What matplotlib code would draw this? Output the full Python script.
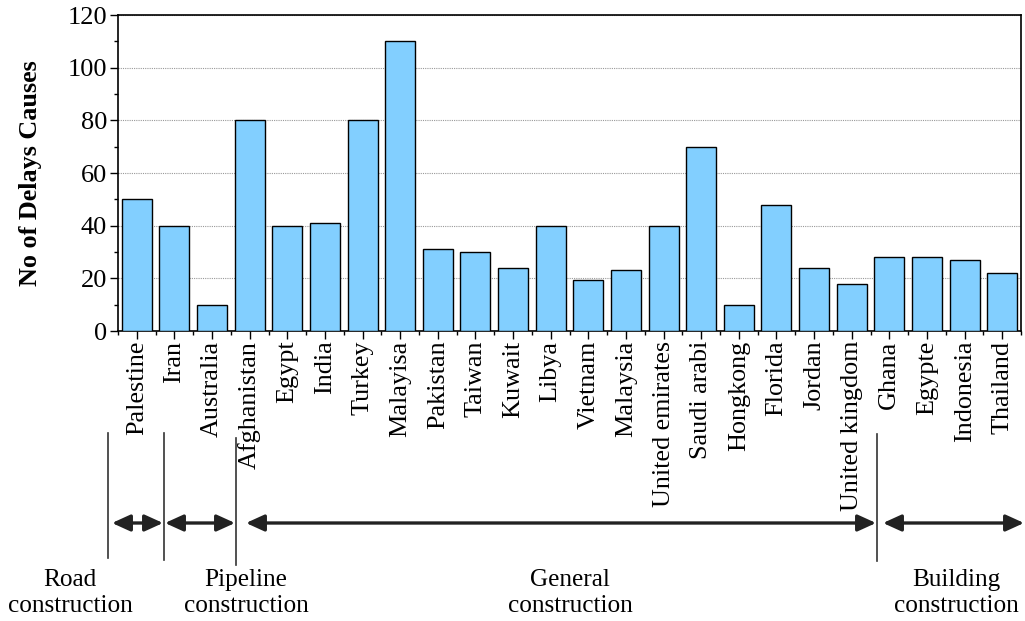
import numpy as np
import matplotlib
matplotlib.use("Agg")
import matplotlib.pyplot as plt

plt.rcParams['font.family'] = ['Liberation Serif', 'DejaVu Serif']

# ---------------------------------------------
# data
# ---------------------------------------------
countries = ["Palestine", "Iran", "Australia", "Afghanistan", "Egypt", "India",
             "Turkey", "Malayisa", "Pakistan", "Taiwan", "Kuwait", "Libya",
             "Vietnam", "Malaysia", "United emirates", "Saudi arabi", "Hongkong",
             "Florida", "Jordan", "United kingdom", "Ghana", "Egypte",
             "Indonesia", "Thailand"]
delay_causes = [50, 40, 10, 80, 40, 41, 80, 110, 31, 30, 24, 40,
                19.5, 23, 40, 70, 10, 48, 24, 18, 28, 28, 27, 22]

group_names = ["Road\nconstruction", "Pipeline\nconstruction",
               "General\nconstruction", "Building\nconstruction"]

W, H = 1025, 621
fig = plt.figure(figsize=(W / 100, H / 100), dpi=100)
ax = fig.add_axes([118 / W, 1 - 331 / H, (1021 - 118) / W, (331 - 15) / H])

x = np.arange(len(countries))
ax.bar(x, delay_causes, width=0.8, color='#82CFFF', edgecolor='black',
       linewidth=1.0, zorder=3)

ax.set_xlim(-0.5, len(countries) - 0.5)
ax.set_ylim(0, 120)
ax.set_yticks(range(0, 121, 20))
ax.set_yticks(range(10, 120, 20), minor=True)
ax.set_xticks(x)
ax.set_xticks(np.arange(-0.5, len(countries), 1.0), minor=True)
ax.set_xticklabels(countries, rotation=90, fontsize=18.8)
ax.tick_params(axis='y', labelsize=19, direction='out', length=6, width=1, pad=2)
ax.tick_params(axis='x', direction='out', length=6, width=1, pad=1)
ax.tick_params(which='minor', direction='out', length=3, width=1)
ax.grid(axis='y', linestyle=(0, (1, 1)), color='#999999', linewidth=0.8, zorder=0)
for s in ax.spines.values():
    s.set_linewidth(1.2)

ax.set_ylabel('No of Delays Causes', fontsize=18.8, fontweight='bold')
ax.yaxis.set_label_coords(-0.084, 0.5)

# ---------------------------------------------
# project-type groups under the axis
# ---------------------------------------------
def fx(px):
    return px / W

def fy(py):
    return 1 - py / H

# separator lines (x pixel, top y, bottom y)
for px, y0, y1 in [(108, 433, 558), (164, 433, 560), (236, 438, 565), (877, 434, 561)]:
    fig.add_artist(plt.Line2D([fx(px), fx(px)], [fy(y0), fy(y1)],
                              color='#333333', linewidth=1.2))

arrow_y = fy(523)
for x0, x1 in [(112, 163), (165, 235), (246, 876), (883, 1024)]:
    fig.add_artist(matplotlib.patches.FancyArrowPatch(
        (fx(x0), arrow_y), (fx(x1), arrow_y), transform=fig.transFigure,
        arrowstyle='<|-|>,head_length=11,head_width=5', mutation_scale=1,
        color='#222222', linewidth=2.4, shrinkA=0, shrinkB=0))

for name, cx in zip(group_names, [70, 246, 570, 956]):
    fig.text(fx(cx), fy(593), name, ha='center', va='center', fontsize=18.2,
             linespacing=1.2)

fig.savefig('out.png', dpi=100)
